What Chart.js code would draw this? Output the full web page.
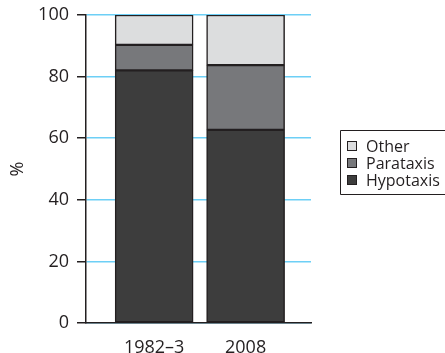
<!DOCTYPE html>
<html>
<head>
<meta charset="utf-8">
<script src="https://cdn.jsdelivr.net/npm/chart.js@4"></script>
<style>
html,body{margin:0;padding:0;background:#fff;}
#wrap{width:445px;height:353px;position:relative;}
</style>
</head>
<body>
<div id="wrap"><canvas id="c" width="445" height="353"></canvas></div>
<script>
const categories = ['1982–3', '2008'];
const hypotaxis = [82, 62.7];
const parataxis = [8.3, 21];
const other = [9.7, 16.3];
const yTicks = [0, 20, 40, 60, 80, 100];
const seriesNames = ['Hypotaxis', 'Parataxis', 'Other'];
const seriesColors = ['#3d3d3d', '#77787b', '#dcddde'];

const textColor = '#231f20';
const fontFamily = '"Open Sans", "Noto Sans", sans-serif';

const legendPlugin = {
  id: 'boxLegend',
  afterDraw(chart) {
    const ctx = chart.ctx;
    ctx.save();
    ctx.strokeStyle = textColor;
    ctx.lineWidth = 1;
    ctx.beginPath();
    ctx.moveTo(445.5, 130.5);
    ctx.lineTo(340.5, 130.5);
    ctx.lineTo(340.5, 194.5);
    ctx.lineTo(445.5, 194.5);
    ctx.stroke();
    const ds = chart.data.datasets.slice().reverse();
    ctx.font = '16px ' + fontFamily;
    ctx.textBaseline = 'middle';
    ds.forEach((d, i) => {
      const y = 146 + i * 17;
      ctx.fillStyle = d.backgroundColor;
      ctx.fillRect(347.5, y - 4.5, 9, 9);
      ctx.strokeStyle = textColor;
      ctx.strokeRect(347.5, y - 4.5, 9, 9);
      ctx.fillStyle = textColor;
      ctx.fillText(d.label, 366, y + 1);
    });
    ctx.restore();
  }
};

new Chart(document.getElementById('c'), {
  type: 'bar',
  data: {
    labels: categories,
    datasets: [
      { label: seriesNames[0], data: hypotaxis, backgroundColor: seriesColors[0] },
      { label: seriesNames[1], data: parataxis, backgroundColor: seriesColors[1] },
      { label: seriesNames[2], data: other, backgroundColor: seriesColors[2] }
    ].map(d => Object.assign(d, { borderColor: '#231f20', borderWidth: 1.5, borderSkipped: false, barThickness: 78 }))
  },
  options: {
    responsive: false,
    animation: false,
    devicePixelRatio: 1,
    layout: { padding: { top: 15, right: 134, bottom: 0, left: 0 } },
    plugins: { legend: { display: false }, tooltip: { enabled: false } },
    scales: {
      x: {
        stacked: true,
        offset: true,
        grid: { display: false },
        border: { display: true, color: textColor, width: 1.5 },
        ticks: { color: textColor, font: { family: fontFamily, size: 18 }, padding: 6, maxRotation: 0 },
        afterBuildTicks(scale) { scale._startValue = -0.745; scale._valueRange = 2.46; },
        afterFit(scale) { scale.height = 30; scale.paddingLeft = 0; scale.paddingRight = 0; }
      },
      y: {
        stacked: true,
        min: 0,
        max: 100,
        afterBuildTicks(scale) { scale.ticks = yTicks.map(v => ({ value: v })); },
        grid: { color: '#6dcff6', lineWidth: 1.5, tickColor: textColor, tickLength: 9, drawOnChartArea: true },
        border: { display: true, color: textColor, width: 1.5 },
        ticks: { color: textColor, font: { family: fontFamily, size: 18 }, padding: 8 },
        title: { display: true, text: '%', color: textColor, font: { family: fontFamily, size: 18 }, padding: { top: 7, bottom: 0 } },
        afterFit(scale) { scale.width = 86; scale.paddingTop = 0; scale.paddingBottom = 0; }
      }
    }
  },
  plugins: [legendPlugin]
});
</script>
</body>
</html>
